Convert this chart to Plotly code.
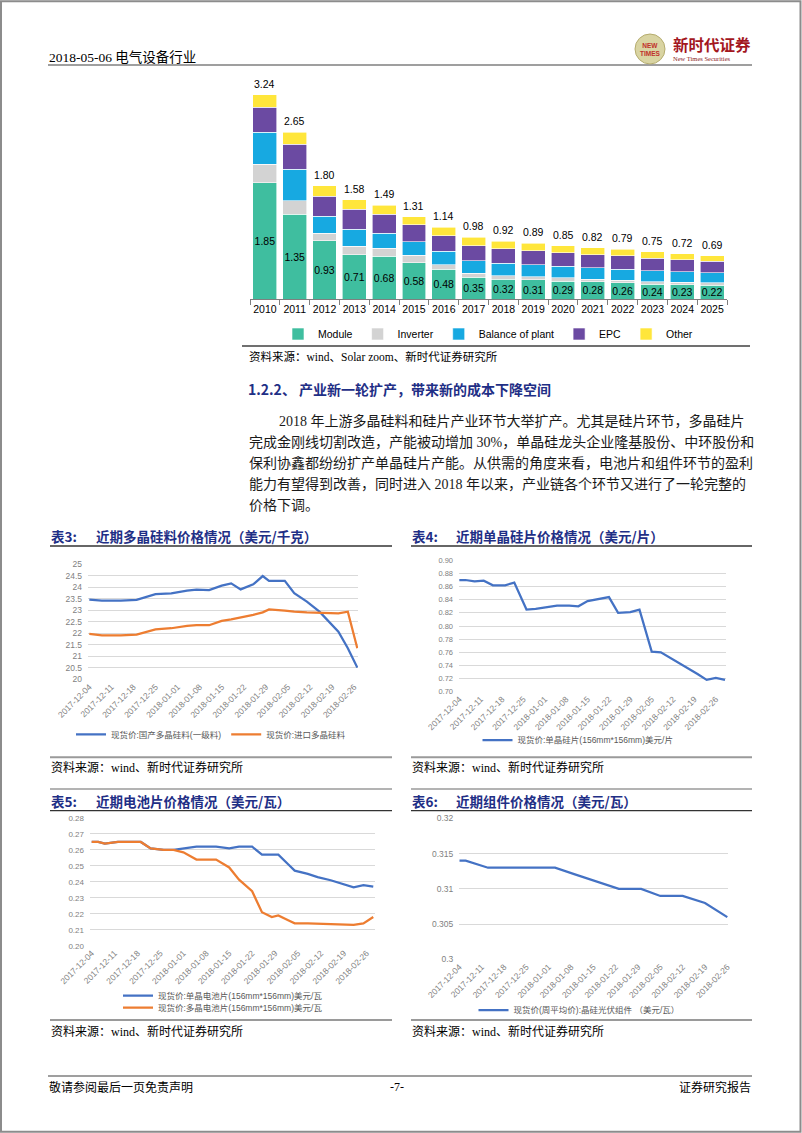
import plotly.graph_objects as go
import pandas as pd

W, H = 802, 1133


def px(x):
    return x / W


def py(y):
    return 1 - y / H


CJK = "Noto Sans CJK SC"
SERIF = "Liberation Serif, Noto Sans CJK SC"
SANS = "Liberation Sans, Noto Sans CJK SC"
NAVY = "#1F2F86"

# ---------------- Bar chart data (USD/W cost breakdown) ----------------
years = ["2010", "2011", "2012", "2013", "2014", "2015", "2016", "2017",
         "2018", "2019", "2020", "2021", "2022", "2023", "2024", "2025"]
module = [1.85, 1.35, 0.93, 0.71, 0.68, 0.58, 0.48, 0.35, 0.32, 0.31, 0.29, 0.28, 0.26, 0.24, 0.23, 0.22]
inverter = [0.29, 0.21, 0.12, 0.13, 0.13, 0.12, 0.07, 0.06, 0.05, 0.05, 0.05, 0.04, 0.04, 0.04, 0.04, 0.04]
bop = [0.51, 0.50, 0.27, 0.27, 0.24, 0.21, 0.21, 0.20, 0.20, 0.19, 0.18, 0.18, 0.18, 0.17, 0.17, 0.16]
epc = [0.39, 0.40, 0.31, 0.32, 0.30, 0.27, 0.25, 0.24, 0.23, 0.22, 0.22, 0.21, 0.21, 0.20, 0.19, 0.18]
other = [0.20, 0.19, 0.17, 0.15, 0.14, 0.13, 0.13, 0.13, 0.12, 0.12, 0.11, 0.11, 0.10, 0.10, 0.09, 0.09]
totals = [3.24, 2.65, 1.80, 1.58, 1.49, 1.31, 1.14, 0.98, 0.92, 0.89, 0.85, 0.82, 0.79, 0.75, 0.72, 0.69]
bar_series = ["Module", "Inverter", "Balance of plant", "EPC", "Other"]

# ---------------- 表3 polysilicon (USD/kg) ----------------
t3_dates = ["2017-12-04", "2017-12-08", "2017-12-14", "2017-12-19", "2017-12-25", "2017-12-30",
            "2018-01-04", "2018-01-07", "2018-01-11", "2018-01-15", "2018-01-18", "2018-01-21",
            "2018-01-25", "2018-01-28", "2018-01-30", "2018-02-04", "2018-02-07", "2018-02-11",
            "2018-02-15", "2018-02-18", "2018-02-21", "2018-02-24", "2018-02-27"]
t3_domestic = [23.46, 23.42, 23.42, 23.45, 23.70, 23.74, 23.86, 23.90, 23.88, 24.07, 24.17, 23.91,
               24.13, 24.49, 24.28, 24.28, 23.74, 23.38, 22.94, 22.50, 22.07, 21.35, 20.51]
t3_import = [21.97, 21.91, 21.91, 21.94, 22.17, 22.22, 22.32, 22.35, 22.35, 22.54, 22.61, 22.68,
             22.80, 22.91, 23.04, 22.99, 22.94, 22.91, 22.90, 22.88, 22.87, 22.94, 21.35]
t3_names = ["现货价:国产多晶硅料(一级料)", "现货价:进口多晶硅料"]

# ---------------- 表4 mono wafer (USD/pc) ----------------
t4_dates = ["2017-12-04", "2017-12-06", "2017-12-09", "2017-12-12", "2017-12-15", "2017-12-19",
            "2017-12-22", "2017-12-26", "2017-12-29", "2018-01-02", "2018-01-05", "2018-01-09",
            "2018-01-12", "2018-01-15", "2018-01-19", "2018-01-22", "2018-01-25", "2018-01-29",
            "2018-02-01", "2018-02-05", "2018-02-08", "2018-02-11", "2018-02-15", "2018-02-20",
            "2018-02-23", "2018-02-26", "2018-03-01"]
t4_wafer = [0.870, 0.870, 0.868, 0.869, 0.862, 0.862, 0.866, 0.825, 0.826, 0.829, 0.831, 0.831,
            0.830, 0.838, 0.842, 0.844, 0.820, 0.821, 0.825, 0.761, 0.760, 0.752, 0.741, 0.727,
            0.718, 0.721, 0.718]
t4_name = "现货价:单晶硅片(156mm*156mm)美元/片"

# ---------------- 表5 cells (USD/W) ----------------
t5_dates = ["2017-12-04", "2017-12-06", "2017-12-08", "2017-12-12", "2017-12-16", "2017-12-19",
            "2017-12-22", "2017-12-26", "2017-12-29", "2018-01-01", "2018-01-05", "2018-01-08",
            "2018-01-11", "2018-01-15", "2018-01-18", "2018-01-22", "2018-01-25", "2018-01-28",
            "2018-01-30", "2018-02-02", "2018-02-04", "2018-02-08", "2018-02-11", "2018-02-15",
            "2018-02-18", "2018-02-22", "2018-02-25", "2018-02-28"]
t5_mono = [0.265, 0.265, 0.264, 0.265, 0.265, 0.265, 0.261, 0.260, 0.260, 0.261, 0.262, 0.262,
           0.262, 0.261, 0.262, 0.262, 0.257, 0.257, 0.257, 0.251, 0.247, 0.245, 0.243, 0.241,
           0.239, 0.2366, 0.238, 0.237]
t5_multi = [0.265, 0.265, 0.264, 0.265, 0.265, 0.265, 0.261, 0.260, 0.260, 0.2585, 0.254, 0.254,
            0.254, 0.249, 0.2414, 0.2341, 0.221, 0.218, 0.219, 0.216, 0.214, 0.214, 0.2138, 0.2136,
            0.2134, 0.213, 0.214, 0.218]
t5_names = ["现货价:单晶电池片(156mm*156mm)美元/瓦", "现货价:多晶电池片(156mm*156mm)美元/瓦"]

# ---------------- 表6 modules (USD/W) ----------------
t6_dates = ["2017-12-04", "2017-12-06", "2017-12-13", "2017-12-20", "2017-12-27", "2018-01-03",
            "2018-01-09", "2018-01-16", "2018-01-23", "2018-01-30", "2018-02-05", "2018-02-12",
            "2018-02-19", "2018-02-26"]
t6_module = [0.314, 0.314, 0.313, 0.313, 0.313, 0.313, 0.3121, 0.3111, 0.310, 0.310, 0.309, 0.309,
             0.308, 0.306]
t6_name = "现货价(周平均价):晶硅光伏组件 （美元/瓦）"

week_ticks = ["2017-12-04", "2017-12-11", "2017-12-18", "2017-12-25", "2018-01-01", "2018-01-08",
              "2018-01-15", "2018-01-22", "2018-01-29", "2018-02-05", "2018-02-12", "2018-02-19",
              "2018-02-26"]

BASE = pd.Timestamp("2017-12-04")


def drange(d0, d1):
    f = "%Y-%m-%d %H:%M:%S"
    return [(BASE + pd.Timedelta(days=d0)).strftime(f), (BASE + pd.Timedelta(days=d1)).strftime(f)]


BLUE = "#4472C4"
ORANGE = "#ED7D31"

fig = go.Figure()

# ---- stacked bars ----
bar_colors = ["#3FBE9F", "#D3D3D3", "#17A9E1", "#6B4AA2", "#FFE63B"]
bar_values = [module, inverter, bop, epc, other]
for name, vals, col in zip(bar_series, bar_values, bar_colors):
    kw = {}
    if name == "Module":
        kw = dict(text=[f"{v:.2f}" for v in vals], textposition="inside", textangle=0,
                  insidetextanchor="middle",
                  textfont=dict(size=10.5, color="#000", family="Liberation Sans"))
    fig.add_trace(go.Bar(x=years, y=vals, name=name,
                         marker=dict(color=col, line=dict(color="white", width=0.6)),
                         xaxis="x", yaxis="y", legend="legend", **kw))

# ---- line charts ----
fig.add_trace(go.Scatter(x=t3_dates, y=t3_domestic, name=t3_names[0], mode="lines",
                         line=dict(color=BLUE, width=2.25), xaxis="x2", yaxis="y2", legend="legend2"))
fig.add_trace(go.Scatter(x=t3_dates, y=t3_import, name=t3_names[1], mode="lines",
                         line=dict(color=ORANGE, width=2.25), xaxis="x2", yaxis="y2", legend="legend2"))
fig.add_trace(go.Scatter(x=t4_dates, y=t4_wafer, name=t4_name, mode="lines",
                         line=dict(color=BLUE, width=2.25), xaxis="x3", yaxis="y3", legend="legend3",
                         showlegend=True))
fig.add_trace(go.Scatter(x=t5_dates, y=t5_mono, name=t5_names[0], mode="lines",
                         line=dict(color=BLUE, width=2.25), xaxis="x4", yaxis="y4", legend="legend4",
                         showlegend=True))
fig.add_trace(go.Scatter(x=t5_dates, y=t5_multi, name=t5_names[1], mode="lines",
                         line=dict(color=ORANGE, width=2.25), xaxis="x4", yaxis="y4", legend="legend6",
                         showlegend=True))
fig.add_trace(go.Scatter(x=t6_dates, y=t6_module, name=t6_name, mode="lines",
                         line=dict(color=BLUE, width=2.25), xaxis="x5", yaxis="y5", legend="legend5",
                         showlegend=True))

layout = dict(
    width=W, height=H, margin=dict(l=0, r=0, t=0, b=0, pad=0, autoexpand=False),
    paper_bgcolor="white", plot_bgcolor="white", barmode="stack", bargap=0.2,
    showlegend=True,
    uniformtext=dict(minsize=10, mode="show"),
)

# bar axes
layout["xaxis"] = dict(domain=[px(250), px(727)], range=[-0.5, 15.5], type="category", anchor="y",
                       showline=True, linecolor="#7F7F7F", linewidth=1, ticks="outside",
                       tickson="boundaries", ticklen=5, tickcolor="#7F7F7F", showgrid=False,
                       tickangle=0,
                       tickfont=dict(size=10.5, color="#000", family="Liberation Sans"), fixedrange=True)
layout["yaxis"] = dict(domain=[py(299.3), py(75)], range=[0, 224.3 / 63.1], visible=False,
                       anchor="x", fixedrange=True)

tickfont_small = dict(size=8.5, color="#7F7F7F", family=SANS)


def line_axes(n, xdom, xr, ydom, yr, dtick, fmt, yfont=8.5):
    layout[f"xaxis{n}"] = dict(domain=[px(xdom[0]), px(xdom[1])], range=drange(*xr), type="date",
                               anchor=f"y{n}", tickmode="array", tickvals=week_ticks, ticktext=week_ticks,
                               tickangle=-45, tickfont=tickfont_small, showgrid=False, showline=False,
                               zeroline=False, ticks="", fixedrange=True)
    layout[f"yaxis{n}"] = dict(domain=[py(ydom[0]), py(ydom[1])], range=yr, anchor=f"x{n}",
                               tick0=yr[0], dtick=dtick, tickformat=fmt, gridcolor="#D9D9D9",
                               gridwidth=1, showline=False, zeroline=False, ticks="",
                               ticklabelstandoff=5,
                               tickfont=dict(size=yfont, color="#7F7F7F", family=SANS), fixedrange=True)


line_axes(2, (88, 358), (-0.41, 85.22), (679.3, 564.3), [20, 25], 0.5, "")
line_axes(3, (459, 726), (-0.1, 87.33), (691.7, 560.3), [0.70, 0.90], 0.02, ".2f", 7.5)
line_axes(4, (90, 375), (-0.52, 86.53), (945.7, 818), [0.20, 0.28], 0.01, ".2f", 8)
line_axes(5, (459.3, 728.3), (0, 84.31), (959.5, 818.3), [0.30, 0.32], 0.005, "", 8.5)

leg_small = dict(size=8.5, color="#595959", family=SANS)
layout["legend"] = dict(orientation="h", x=px(488), xanchor="center", y=py(334), yanchor="middle",
                        traceorder="normal", font=dict(size=10.5, color="#000", family="Liberation Sans"),
                        bgcolor="rgba(0,0,0,0)", itemclick=False)
layout["legend2"] = dict(orientation="h", x=px(211), xanchor="center", y=py(734.3), yanchor="middle",
                         font=leg_small, bgcolor="rgba(0,0,0,0)")
layout["legend3"] = dict(orientation="h", x=px(578), xanchor="center", y=py(740), yanchor="middle",
                         font=leg_small, bgcolor="rgba(0,0,0,0)")
layout["legend4"] = dict(orientation="h", x=px(118), xanchor="left", y=py(995.7), yanchor="middle",
                         font=leg_small, bgcolor="rgba(0,0,0,0)")
layout["legend6"] = dict(orientation="h", x=px(118), xanchor="left", y=py(1007.7), yanchor="middle",
                         font=leg_small, bgcolor="rgba(0,0,0,0)")
layout["legend5"] = dict(orientation="h", x=px(579), xanchor="center", y=py(1010), yanchor="middle",
                         font=leg_small, bgcolor="rgba(0,0,0,0)")

# ---------------- shapes ----------------
shapes = []


def hline(x0, x1, y, color, width):
    shapes.append(dict(type="line", xref="paper", yref="paper", x0=px(x0), x1=px(x1), y0=py(y), y1=py(y),
                       line=dict(color=color, width=width)))


# page border
shapes.append(dict(type="rect", xref="paper", yref="paper", x0=px(1), x1=px(800.5), y0=py(1131.8),
                   y1=py(1.2), line=dict(color="#8C8C8C", width=2), fillcolor="rgba(0,0,0,0)"))
hline(48, 752, 65, "#7F7F7F", 1.5)       # header rule
hline(48, 752, 1076, "#7F7F7F", 1.5)     # footer rule
hline(242, 750, 346, "#404040", 1.5)     # under bar chart
hline(50, 392, 546, "#333333", 1.3)      # under 表3 title
hline(411, 752, 546, "#333333", 1.3)     # under 表4 title
hline(50, 392, 757.3, "#9A9A9A", 2)      # above source 表3
hline(411, 752, 757.3, "#9A9A9A", 2)     # above source 表4
hline(50, 392, 789, "#9A9A9A", 1.5)      # above 表5 title
hline(411, 752, 789, "#9A9A9A", 1.5)     # above 表6 title
hline(50, 392, 810.7, "#333333", 1.3)    # under 表5 title
hline(411, 752, 810.7, "#333333", 1.3)   # under 表6 title
hline(50, 392, 1020, "#9A9A9A", 2)       # above source 表5
hline(411, 752, 1020, "#9A9A9A", 2)      # above source 表6
# logo circle
shapes.append(dict(type="circle", xref="paper", yref="paper", x0=px(635), x1=px(665), y0=py(64), y1=py(34),
                   line=dict(color="#B5AC6E", width=1), fillcolor="#D9D4A2"))
layout["shapes"] = shapes

# ---------------- text ----------------
ann = []

# bar totals, placed through the bar chart's own axes (category index, total value)
for i, tot in enumerate(totals):
    ann.append(dict(x=i, y=tot, xref="x", yref="y", text=f"{tot:.2f}", showarrow=False,
                    xanchor="center", yanchor="bottom", yshift=3,
                    font=dict(size=10.5, color="#000", family="Liberation Sans")))


def txt(x, y, s, size, color="#000", bold=False, anchor="left", family=SERIF):
    ann.append(dict(x=px(x), y=py(y), xref="paper", yref="paper", text=f"<b>{s}</b>" if bold else s,
                    showarrow=False, xanchor=anchor, yanchor="middle",
                    font=dict(size=size, color=color, family=family)))


txt(47, 57, "2018-05-06 电气设备行业", 13.5)
txt(650, 49, "NEW<br>TIMES", 6.5, "#C0302A", True, "center", "Liberation Sans")
txt(671, 43.5, "新时代证券", 15.5, "#A3171E", True, "left", CJK)
txt(671, 58, "New Times Securities", 6.5, "#8B1A1A", False, "left", "Liberation Serif")

txt(247, 357, "资料来源：wind、Solar zoom、新时代证券研究所", 11.5)
txt(246, 388.5, "1.2.2、 产业新一轮扩产，带来新的成本下降空间", 14, NAVY, True, "left", CJK)
para = [
    (277, "2018 年上游多晶硅料和硅片产业环节大举扩产。尤其是硅片环节，多晶硅片"),
    (247, "完成金刚线切割改造，产能被动增加 30%，单晶硅龙头企业隆基股份、中环股份和"),
    (247, "保利协鑫都纷纷扩产单晶硅片产能。从供需的角度来看，电池片和组件环节的盈利"),
    (247, "能力有望得到改善，同时进入 2018 年以来，产业链各个环节又进行了一轮完整的"),
    (247, "价格下调。"),
]
for i, (x0, s) in enumerate(para):
    txt(x0, 420.5 + 21.2 * i, s, 14, "#1A1A1A")

for (tx, cx, ty, code, title) in [
    (49, 94, 536, "表3:", "近期多晶硅料价格情况（美元/千克）"),
    (410, 454, 536, "表4:", "近期单晶硅片价格情况（美元/片）"),
    (49, 94, 801, "表5:", "近期电池片价格情况（美元/瓦）"),
    (410, 454, 801, "表6:", "近期组件价格情况（美元/瓦）"),
]:
    txt(tx, ty, code, 13.5, NAVY, True, "left", CJK)
    txt(cx, ty, title, 13.5, NAVY, True, "left", CJK)

for (sx, sy) in [(49, 767), (410, 767), (49, 1031.7), (410, 1031.7)]:
    txt(sx, sy, "资料来源：wind、新时代证券研究所", 12)

txt(47, 1087, "敬请参阅最后一页免责声明", 12)
txt(397, 1087, "-7-", 12, anchor="center")
txt(753, 1087, "证券研究报告", 12, anchor="right")
layout["annotations"] = ann

fig.update_layout(**layout)
fig.write_html("out.html", config={"displayModeBar": False, "staticPlot": True},
               post_script="document.body.style.margin='0px';document.body.style.overflow='hidden';")
